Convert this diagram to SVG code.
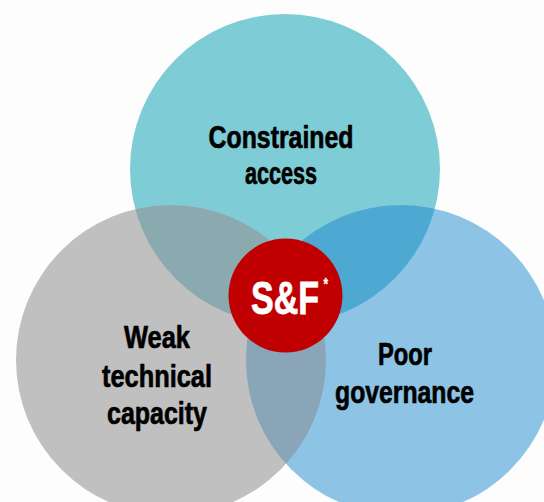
<svg xmlns="http://www.w3.org/2000/svg" width="544" height="502" viewBox="0 0 544 502">
  <style>
    .lbl { font-family: "Liberation Sans", Arial, sans-serif; font-weight: bold; font-size: 32px; fill: #000; stroke: #000; stroke-width: 0.7px; text-anchor: middle; }
    .sf { font-family: "Liberation Sans", Arial, sans-serif; font-weight: bold; fill: #fff; stroke: #fff; stroke-width: 0.8px; }
  </style>
  <defs>
    <clipPath id="cTop"><circle cx="285" cy="169" r="155"/></clipPath>
    <clipPath id="cLeft"><circle cx="171" cy="360" r="155"/></clipPath>
  </defs>
  <rect width="544" height="502" fill="#fdfdfd"/>
  <g id="node-constrained-access">
    <circle cx="285" cy="169" r="155" fill="#7ecdd6"/>
  </g>
  <g id="node-weak-technical-capacity">
    <circle cx="171" cy="360" r="155" fill="#c0c0c0"/>
  </g>
  <g id="node-poor-governance">
    <circle cx="401" cy="360" r="155" fill="#8dc4e6"/>
  </g>
  <g id="overlaps">
    <g clip-path="url(#cTop)"><circle cx="171" cy="360" r="155" fill="#8aaab0"/></g>
    <g clip-path="url(#cTop)"><circle cx="401" cy="360" r="155" fill="#4da9d2"/></g>
    <g clip-path="url(#cLeft)"><circle cx="401" cy="360" r="155" fill="#8aa4b8"/></g>
  </g>
  <g id="labels">
    <text class="lbl" x="281" y="148" textLength="145" lengthAdjust="spacingAndGlyphs">Constrained</text>
    <text class="lbl" x="281" y="184" textLength="72" lengthAdjust="spacingAndGlyphs">access</text>
    <text class="lbl" x="157" y="348" textLength="66" lengthAdjust="spacingAndGlyphs">Weak</text>
    <text class="lbl" x="157" y="387" textLength="110" lengthAdjust="spacingAndGlyphs">technical</text>
    <text class="lbl" x="157" y="424" textLength="100" lengthAdjust="spacingAndGlyphs">capacity</text>
    <text class="lbl" x="405" y="365" textLength="54" lengthAdjust="spacingAndGlyphs">Poor</text>
    <text class="lbl" x="404.5" y="403" textLength="139" lengthAdjust="spacingAndGlyphs">governance</text>
  </g>
  <g id="node-sf">
    <circle cx="285.5" cy="295.5" r="57" fill="#c00000"/>
    <text class="sf" transform="translate(251,314) scale(0.74,1)" x="0" y="0" font-size="46">S&amp;F<tspan dx="6" dy="-24" font-size="16" stroke-width="0.3">*</tspan></text>
  </g>
  <g id="connectors"/>
</svg>
